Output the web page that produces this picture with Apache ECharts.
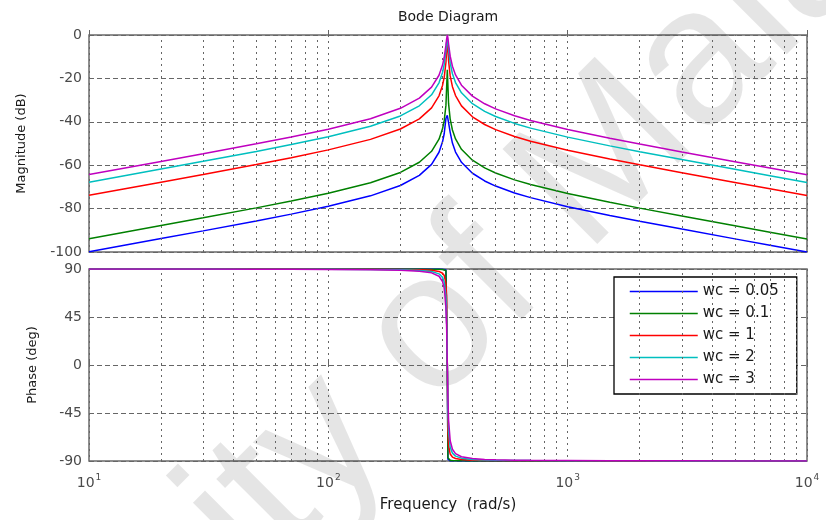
<!DOCTYPE html>
<html>
<head>
<meta charset="utf-8">
<title>Bode Diagram</title>
<script src="https://cdn.jsdelivr.net/npm/echarts@6/dist/echarts.min.js"></script>
<style>
  html, body { margin: 0; padding: 0; background: #ffffff; }
  #chart { width: 826px; height: 520px; }
</style>
</head>
<body>
<div id="chart"></div>
<script>
// Frequency samples (rad/s), shared by every response curve
const freqs = [10, 20, 30, 50, 70, 100, 150, 200, 240, 270, 290, 300, 305, 310, 312, 314.16, 316, 318,
  323, 330, 340, 360, 400, 450, 500, 600, 700, 1000, 1500, 2000, 3000, 5000, 7000, 10000];

// Magnitude (dB) for each damping setting
const magWc005 = [-99.88, -93.83, -90.26, -85.68, -82.54, -78.96, -74.12, -69.35, -64.67, -59.60, -54.04, -49.24, -45.39, -38.46, null, -37.0, null, -37.66,
  -44.83, -49.81, -53.93, -58.67, -63.71, -67.26, -69.62, -72.78, -74.95, -79.10, -83.13, -85.80, -89.45, -93.95, -96.88, -99.99];
const magWc01 = [-93.86, -87.81, -84.24, -79.66, -76.52, -72.94, -68.10, -63.33, -58.65, -53.58, -48.02, -43.22, -39.37, -32.44, null, -16.0, null, -31.64,
  -38.81, -43.79, -47.91, -52.65, -57.69, -61.24, -63.60, -66.76, -68.93, -73.08, -77.11, -79.78, -83.43, -87.93, -90.86, -93.97];
const magWc1 = [-73.86, -67.81, -64.24, -59.66, -56.52, -52.94, -48.10, -43.33, -38.65, -33.58, -28.02, -23.24, -19.42, -12.68, -7.56, -4.0, -6.41, -11.93,
  -18.87, -23.81, -27.92, -32.65, -37.69, -41.24, -43.60, -46.76, -48.93, -53.08, -57.11, -59.78, -63.43, -67.93, -70.86, -73.97];
const magWc2 = [-67.84, -61.79, -58.22, -53.64, -50.50, -46.92, -42.08, -37.31, -32.63, -27.56, -22.03, -17.28, -13.55, -7.31, -3.38, -2.0, -2.70, -6.69,
  -12.99, -17.86, -21.92, -26.64, -31.67, -35.22, -37.58, -40.74, -42.91, -47.06, -51.09, -53.76, -57.41, -61.91, -64.84, -67.95];
const magWc3 = [-64.32, -58.27, -54.70, -50.12, -46.98, -43.40, -38.56, -33.79, -29.11, -24.04, -18.54, -13.86, -10.26, -4.70, -1.85, 0, -1.35, -4.19,
  -9.76, -14.41, -18.43, -23.13, -28.16, -31.70, -34.06, -37.22, -39.39, -43.54, -47.57, -50.24, -53.89, -58.39, -61.32, -64.43];

// Phase (deg) for each damping setting
const phWc005 = [90, 90, 90, 90, 89.99, 89.99, 89.99, 89.98, 89.97, 89.94, 89.89, 89.80, 89.69, 89.32, 88.68, 0, -88.44, -89.25,
  -89.67, -89.81, -89.88, -89.93, -89.96, -89.98, -89.98, -89.99, -89.99, -89.99, -90, -90, -90, -90, -90, -90];
const phWc01 = [90, 90, 89.99, 89.99, 89.99, 89.99, 89.98, 89.96, 89.93, 89.88, 89.77, 89.60, 89.38, 88.63, 87.36, 0, -86.88, -88.50,
  -89.34, -89.63, -89.77, -89.87, -89.93, -89.95, -89.96, -89.97, -89.98, -89.99, -89.99, -89.99, -90, -90, -90, -90];
const phWc1 = [89.99, 89.98, 89.96, 89.94, 89.91, 89.87, 89.77, 89.61, 89.33, 88.80, 87.72, 86.05, 83.86, 76.57, 65.22, 0, -61.41, -75.32,
  -83.46, -86.30, -87.69, -88.66, -89.25, -89.50, -89.62, -89.74, -89.79, -89.87, -89.92, -89.94, -89.96, -89.98, -89.98, -89.99];
const phWc2 = [89.98, 89.95, 89.93, 89.88, 89.83, 89.74, 89.55, 89.22, 88.66, 87.60, 85.46, 82.14, 77.86, 64.47, 47.29, 0, -42.54, -62.35,
  -77.08, -82.63, -85.40, -87.33, -88.50, -89.01, -89.24, -89.47, -89.59, -89.75, -89.84, -89.88, -89.92, -89.95, -89.97, -89.98];
const phWc3 = [89.97, 89.93, 89.89, 89.82, 89.74, 89.61, 89.32, 88.83, 87.99, 86.41, 83.20, 78.30, 72.12, 54.38, 35.84, 0, -31.47, -51.84,
  -71.01, -79.02, -83.12, -86.00, -87.76, -88.51, -88.86, -89.21, -89.39, -89.62, -89.76, -89.82, -89.88, -89.93, -89.95, -89.97];

const seriesNames = ['wc = 0.05', 'wc = 0.1', 'wc = 1', 'wc = 2', 'wc = 3'];
const magnitudes = [magWc005, magWc01, magWc1, magWc2, magWc3];
const phases = [phWc005, phWc01, phWc1, phWc2, phWc3];

// Axis ranges and tick steps
const freqRange = [10, 10000];
const magRange = [-100, 0];
const magStep = 20;
const phaseRange = [-90, 90];
const phaseStep = 45;

const colors = ['#0000ff', '#008000', '#ff0000', '#00bfbf', '#bf00bf'];
const FONT = '"DejaVu Sans", "Liberation Sans", sans-serif';
const GRID_COLOR = '#666666';
const TICK_COLOR = '#4a4a4a';

// Minor log-decade gridlines (2..9 within each decade)
const minorFreqs = [];
for (const d of [10, 100, 1000]) {
  for (let m = 2; m <= 9; m++) minorFreqs.push(d * m);
}

const pairs = (ys) => freqs.map((f, i) => [f, ys[i]]);

const vGridLine = { type: [2, 4], color: GRID_COLOR, width: 1 };
const hGridLine = { type: [5, 3], color: GRID_COLOR, width: 1 };

function xAxisFor(gridIndex, showLabels) {
  return {
    type: 'log',
    logBase: 10,
    gridIndex,
    min: freqRange[0],
    max: freqRange[1],
    axisLine: { show: false },
    axisTick: { show: true, inside: true, length: 5, lineStyle: { color: GRID_COLOR } },
    splitLine: { show: true, lineStyle: vGridLine },
    name: showLabels ? 'Frequency  (rad/s)' : '',
    nameLocation: 'middle',
    nameGap: 37,
    nameTextStyle: { fontFamily: FONT, fontSize: 15, color: '#1a1a1a' },
    axisLabel: showLabels ? {
      show: true,
      margin: 12,
      formatter: (v) => '{b|10}{e|' + Math.round(Math.log10(v)) + '}',
      rich: {
        b: { fontFamily: FONT, fontSize: 14, color: TICK_COLOR },
        e: { fontFamily: FONT, fontSize: 9, color: TICK_COLOR, padding: [0, 0, 11, 1] }
      }
    } : { show: false }
  };
}

function yAxisFor(gridIndex, range, step, name, nameGap) {
  return {
    type: 'value',
    gridIndex,
    min: range[0],
    max: range[1],
    interval: step,
    axisLine: { show: false },
    axisTick: { show: true, inside: true, length: 5, lineStyle: { color: GRID_COLOR } },
    splitLine: { show: true, lineStyle: hGridLine },
    axisLabel: { fontFamily: FONT, fontSize: 14, color: TICK_COLOR, margin: 7 },
    name,
    nameLocation: 'middle',
    nameRotate: 90,
    nameGap,
    nameTextStyle: { fontFamily: FONT, fontSize: 13, color: '#1a1a1a' }
  };
}

function minorGridSeries(axisIndex) {
  return {
    name: 'minor-grid-' + axisIndex,
    type: 'line',
    xAxisIndex: axisIndex,
    yAxisIndex: axisIndex,
    data: [],
    z: 1,
    silent: true,
    markLine: {
      silent: true,
      symbol: ['none', 'none'],
      label: { show: false },
      lineStyle: vGridLine,
      emphasis: { disabled: true },
      data: minorFreqs.map((f) => ({ xAxis: f }))
    }
  };
}

const series = [minorGridSeries(0), minorGridSeries(1)];
seriesNames.forEach((name, i) => {
  const common = {
    name,
    type: 'line',
    symbol: 'none',
    connectNulls: true,
    z: 3 + i,
    lineStyle: { color: colors[i], width: 1.5 },
    itemStyle: { color: colors[i] },
    emphasis: { disabled: true }
  };
  series.push(Object.assign({}, common, { xAxisIndex: 0, yAxisIndex: 0, data: pairs(magnitudes[i]) }));
  series.push(Object.assign({}, common, { xAxisIndex: 1, yAxisIndex: 1, data: pairs(phases[i]) }));
});

const chart = echarts.init(document.getElementById('chart'), null, { renderer: 'canvas' });
chart.setOption({
  animation: false,
  backgroundColor: '#ffffff',
  textStyle: { fontFamily: FONT },
  grid: [
    { left: 89, top: 35, width: 718, height: 217, show: true, borderColor: '#6a6a6a', borderWidth: 1.5, backgroundColor: 'transparent' },
    { left: 89, top: 269, width: 718, height: 192, show: true, borderColor: '#6a6a6a', borderWidth: 1.5, backgroundColor: 'transparent' }
  ],
  xAxis: [xAxisFor(0, false), xAxisFor(1, true)],
  yAxis: [
    yAxisFor(0, magRange, magStep, 'Magnitude (dB)', 61),
    yAxisFor(1, phaseRange, phaseStep, 'Phase (deg)', 50)
  ],
  graphic: [
    {
      // faint diagonal watermark behind the plots
      type: 'text',
      x: -249,
      y: 1014,
      rotation: 45 * Math.PI / 180,
      z: 0,
      silent: true,
      style: {
        text: 'University of Malaya',
        fontFamily: '"Liberation Sans", Arial, sans-serif',
        fontSize: 195,
        fill: 'rgba(0,0,0,0.1)',
        align: 'left',
        verticalAlign: 'middle'
      }
    },
    {
      type: 'text',
      x: 448,
      y: 17,
      style: { text: 'Bode Diagram', fontFamily: FONT, fontSize: 14, fill: '#1a1a1a', align: 'center', verticalAlign: 'middle' }
    }
  ],
  legend: {
    data: seriesNames,
    orient: 'vertical',
    left: 614,
    top: 277,
    itemWidth: 68,
    itemHeight: 14,
    itemGap: 7,
    padding: [7, 18, 7, 15],
    backgroundColor: '#ffffff',
    borderColor: '#000000',
    borderWidth: 1.3,
    borderRadius: 0,
    selectedMode: false,
    itemStyle: { color: 'rgba(0,0,0,0)', borderWidth: 0, opacity: 0 },
    lineStyle: { width: 1.5 },
    textStyle: { fontFamily: FONT, fontSize: 15, color: '#1a1a1a' }
  },
  series
});
</script>
</body>
</html>
